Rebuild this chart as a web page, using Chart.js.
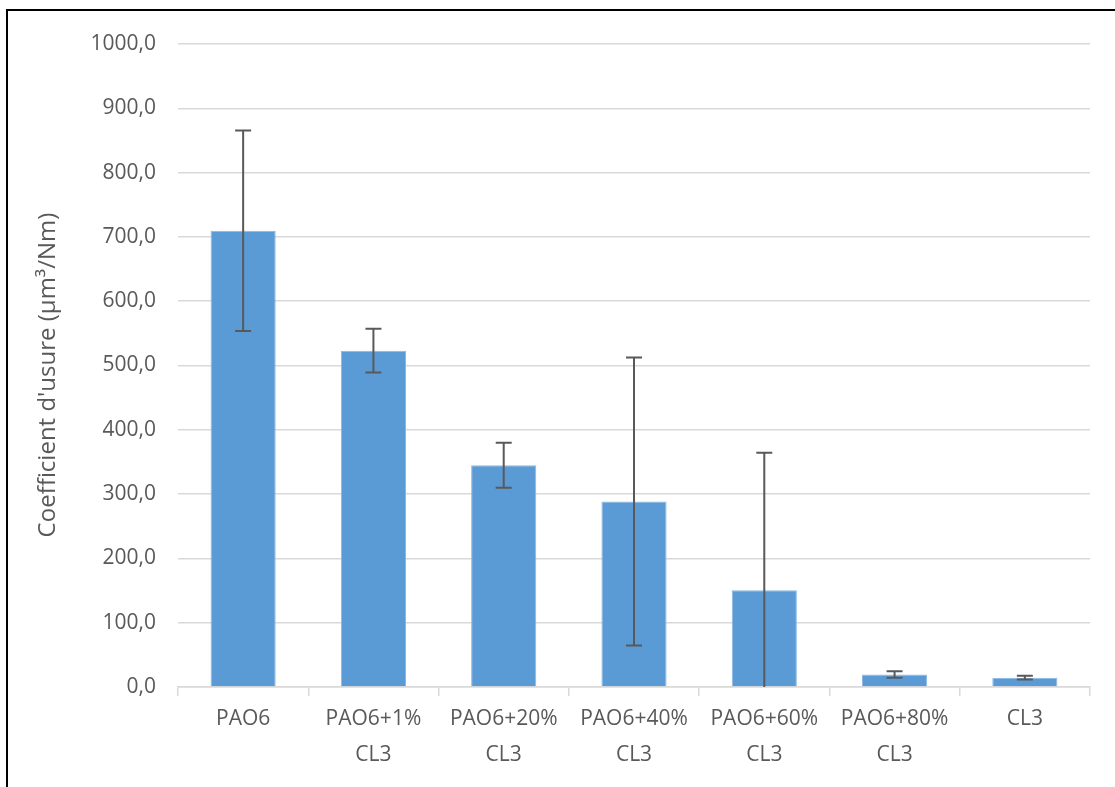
<!DOCTYPE html>
<html>
<head>
<meta charset="utf-8">
<script src="https://cdn.jsdelivr.net/npm/chart.js@4.4.0/dist/chart.umd.min.js"></script>
<style>
  html, body { margin: 0; padding: 0; background: #fff; }
  #wrap { position: relative; width: 1115px; height: 787px; }
  #frame { position: absolute; left: 6px; top: 9px; width: 1120px; height: 800px;
           border-left: 2px solid #000; border-top: 2px solid #000; }
  canvas { position: absolute; left: 0; top: 0; }
</style>
</head>
<body>
<div id="wrap">
  <div id="frame"></div>
  <canvas id="barChart" width="1115" height="787"></canvas>
</div>
<script>
// data
var categories = [["PAO6"], ["PAO6+1%", "CL3"], ["PAO6+20%", "CL3"], ["PAO6+40%", "CL3"],
                  ["PAO6+60%", "CL3"], ["PAO6+80%", "CL3"], ["CL3"]];
var usure = [709.5, 523.0, 345.0, 288.5, 150.5, 19.5, 14.5];
var ecart = [156, 34, 35, 224, 214, 5, 3];
var yTitle = "Coefficient d'usure (µm³/Nm)";

var textColor = "#595959";
var gridColor = "#d9d9d9";

// draws the error bars on top of the bars
var errorBars = {
  id: "errorBars",
  afterDatasetsDraw: function(chart) {
    var ctx = chart.ctx;
    var yScale = chart.scales.y;
    var meta = chart.getDatasetMeta(0);
    ctx.save();
    ctx.strokeStyle = "#595959";
    ctx.lineWidth = 2;
    meta.data.forEach(function(bar, i) {
      var x = bar.x;
      var yTop = yScale.getPixelForValue(usure[i] + ecart[i]);
      var low = usure[i] - ecart[i];
      var yBot = yScale.getPixelForValue(Math.max(low, 0));
      ctx.beginPath();
      ctx.moveTo(x, yTop);
      ctx.lineTo(x, yBot);
      ctx.moveTo(x - 8, yTop);
      ctx.lineTo(x + 8, yTop);
      if (low >= 0) {
        ctx.moveTo(x - 8, yBot);
        ctx.lineTo(x + 8, yBot);
      }
      ctx.stroke();
    });
    ctx.restore();
  }
};

// y axis title, placed like the original (a bit below the axis middle)
var axisTitle = {
  id: "axisTitle",
  afterDraw: function(chart) {
    var ctx = chart.ctx;
    ctx.save();
    ctx.translate(48, 375);
    ctx.rotate(-Math.PI / 2);
    ctx.fillStyle = textColor;
    ctx.font = "24px 'Open Sans'";
    ctx.textAlign = "center";
    ctx.textBaseline = "middle";
    ctx.fillText(yTitle, 0, 0);
    ctx.restore();
  }
};

let myChart = document.getElementById("barChart");

let myBarChart = new Chart(myChart, {
  type: "bar",
  data: {
    labels: categories,
    datasets: [
      {
        data: usure,
        backgroundColor: "#5b9bd5",
        borderColor: "#8ab8e3",
        borderWidth: 1,
        barPercentage: 0.5,
        categoryPercentage: 1.0
      }
    ]
  },
  options: {
    responsive: false,
    animation: false,
    events: [],
    layout: { padding: { top: 44, right: 25, bottom: 0, left: 0 } },
    plugins: {
      legend: { display: false },
      tooltip: { enabled: false }
    },
    scales: {
      x: {
        afterFit: function(scale) { scale.height = 100; },
        grid: {
          drawOnChartArea: false,
          drawTicks: true,
          tickLength: 9,
          color: gridColor,
          lineWidth: 1.5,
          offset: true
        },
        border: { display: true, color: gridColor, width: 1.5 },
        ticks: {
          color: textColor,
          padding: 5,
          maxRotation: 0,
          autoSkip: false,
          font: { family: "Open Sans", size: 21, lineHeight: 1.72 }
        }
      },
      y: {
        min: 0,
        max: 1000,
        afterFit: function(scale) { scale.width = 178; },
        grid: { color: gridColor, lineWidth: 1.5, drawTicks: false },
        border: { display: false },
        ticks: {
          stepSize: 100,
          color: textColor,
          padding: 22,
          font: { family: "Open Sans", size: 21 },
          callback: function(v) { return v.toFixed(1).replace(".", ","); }
        }
      }
    }
  },
  plugins: [errorBars, axisTitle]
});
</script>
</body>
</html>
